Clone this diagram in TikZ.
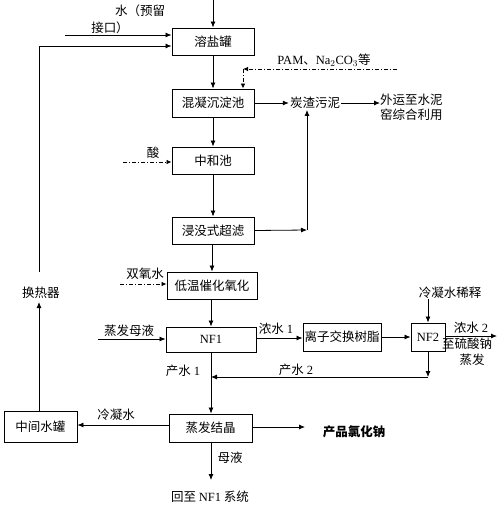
\documentclass[tikz,border=0pt]{standalone}
\usepackage{fontspec}
\setmainfont{Liberation Serif}
\newfontfamily\cjk{Noto Sans CJK SC}
\usetikzlibrary{arrows.meta}
\tikzset{
  every node/.style={font=\cjk\fontsize{12.5}{15}\selectfont, inner sep=1pt},
  box/.style={draw, line width=0.9pt, minimum width=#1, minimum height=27pt, inner sep=0pt},
  arr/.style={line width=0.8pt, -{Latex[length=6pt,width=5pt]}},
  ln/.style={line width=0.8pt},
  dd/.style={line width=0.8pt, dash pattern=on 4pt off 2pt on 1pt off 2pt, -{Latex[length=5pt,width=4.5pt]}},
  lbl/.style={},
  rm/.style={font=\rmfamily\fontsize{12}{14}\selectfont}
}
\begin{document}
\begin{tikzpicture}[x=1pt,y=-1pt]
\useasboundingbox (0,0) rectangle (500,507);
% boxes
\node[box=82pt] (rongyan) at (213,41.5) {溶盐罐};
\node[box=82pt, minimum height=28pt] (hunning) at (213,103) {混凝沉淀池};
\node[box=82pt] (zhonghe) at (213,160.5) {中和池};
\node[box=82pt] (chaolv) at (213,230.5) {浸没式超滤};
\node[box=90pt] (diwen) at (212,285.5) {低温催化氧化};
\node[box=90pt, minimum height=25pt] (nf1) at (211,339.5) {\rmfamily NF1};
\node[box=78pt, minimum height=28pt] (lizi) at (342,337) {离子交换树脂};
\node[box=34pt, minimum height=28pt] (nf2) at (428,337) {\rmfamily NF2};
\node[box=83pt, minimum height=28pt] (zhengfa) at (210.5,428) {蒸发结晶};
\node[box=73pt, minimum height=31pt] (zhongjian) at (40.5,426.5) {中间水罐};

% text labels
\node (shui1) at (140,11) {水（预留};
\node (shui2) at (110,28) {接口）};
\node (pam) at (324,60) {\rmfamily PAM{\cjk 、}Na$_2$CO$_3${\cjk 等}};
\node (tanzha) at (315,103) {炭渣污泥};
\node[align=left, anchor=north west, inner sep=0pt] (waiyun) at (380,94) {外运至水泥\\窑综合利用};
\node (suan) at (153,153) {酸};
\node (syq) at (145,274) {双氧水};
\node (zfmy) at (129,331) {蒸发母液};
\node (ns1) at (276,329) {浓水 {\rmfamily 1}};
\node (lnxs) at (450,293) {冷凝水稀释};
\node (ns2) at (471,328) {浓水 {\rmfamily 2}};
\node (zls) at (467,344) {至硫酸钠};
\node (zfa) at (472,360) {蒸发};
\node (cs2) at (296,370) {产水 {\rmfamily 2}};
\node (cs1) at (183,371) {产水 {\rmfamily 1}};
\node (lns) at (116,415) {冷凝水};
\node (hrq) at (41,293) {换热器};
\node (cp) at (354,432) {\bfseries 产品氯化钠};
\node (my) at (230,458) {母液};
\node (hz) at (210,497) {回至 {\rmfamily NF1} 系统};

% coordinates
\coordinate (top) at (213,0);
\coordinate (w1) at (65,35);
\coordinate (hxTop) at (39,46);
\coordinate (hxMid) at (39,272);
\coordinate (hxArr) at (39,302);
\coordinate (pamS) at (397,69);
\coordinate (pamC) at (243,69);
\coordinate (uf) at (307,230);
\coordinate (suanS) at (123,162);
\coordinate (syqS) at (120,284);
\coordinate (zfmyS) at (98,339);
\coordinate (lnxsS) at (428,299);
\coordinate (ns2E) at (497,336);
\coordinate (c2) at (428,377);
\coordinate (cpE) at (305,427);
\coordinate (myE) at (211,480);

% connectors
\draw[arr] (top) -- (rongyan.north);
\draw[arr] (w1) -- (w1 -| rongyan.west);
\draw[arr] (hxMid) -- (hxTop) -- (hxTop -| rongyan.west);
\draw[arr] (hxArr |- zhongjian.north) -- (hxArr);
\draw[arr] (rongyan.south) -- (hunning.north);
\draw[dd] (pamS) -- (pamC);
\draw[dd] (pamC) -- (pamC |- hunning.north);
\draw[arr] (hunning.east) -- (hunning.east -| tanzha.west);
\draw[arr] (tanzha.east) -- (tanzha.east -| waiyun.west);
\draw[arr] (hunning.south) -- (zhonghe.north);
\draw[dd] (suanS) -- (suanS -| zhonghe.west);
\draw[arr] (zhonghe.south) -- (chaolv.north);
\draw[arr] (chaolv.east) -- (uf);
\draw[arr] (uf) -- (uf |- tanzha.south);
\draw[arr] (chaolv.south -| 212,0) -- (diwen.north -| 212,0);
\draw[dd] (syqS) -- (syqS -| diwen.west);
\draw[arr] (diwen.south -| 211,0) -- (nf1.north -| 211,0);
\draw[arr] (zfmyS) -- (zfmyS -| nf1.west);
\draw[arr] (nf1.east |- 0,338) -- (lizi.west |- 0,338);
\draw[arr] (lizi.east) -- (nf2.west);
\draw[arr] (lnxsS) -- (nf2.north);
\draw[arr] (nf2.east |- ns2E) -- (ns2E);
\draw[arr] (nf2.south) -- (c2);
\draw[arr] (c2) -- (c2 -| nf1.south);
\draw[arr] (nf1.south) -- (nf1.south |- zhengfa.north);
\draw[arr] (zhengfa.west |- 0,425) -- (zhongjian.east |- 0,425);
\draw[arr] (zhengfa.east |- cpE) -- (cpE);
\draw[arr] (zhengfa.south -| myE) -- (myE);
\end{tikzpicture}
\end{document}
